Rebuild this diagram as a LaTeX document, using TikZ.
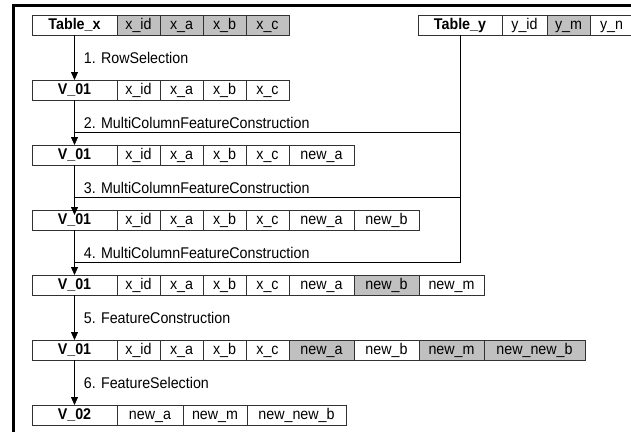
\documentclass[tikz,border=0pt]{standalone}
\usepackage{fontspec}
\setmainfont[FakeStretch=0.92]{Liberation Sans}
\usetikzlibrary{positioning,arrows.meta,calc}
\definecolor{cellLine}{RGB}{50,50,50}
\definecolor{cellHit}{RGB}{192,192,192}
\newcommand\cellfont{\fontsize{15.5}{18}\selectfont}
\tikzset{
  cell/.style={rectangle, draw=cellLine, fill=white, line width=0.8pt, outer sep=0pt,
               minimum height=20pt, minimum width=43pt, inner sep=0pt,
               text height=11pt, text depth=3pt, font=\cellfont},
  hcell/.style={cell, fill=cellHit},
  hdr/.style={cell, minimum width=85pt, font=\cellfont\bfseries, anchor=north west},
  flow/.style={-{Triangle[length=8pt,width=7pt]}, draw=black, line width=0.8pt},
  feed/.style={draw=black, line width=0.8pt},
  lbl/.style={anchor=west, xshift=9pt, inner sep=0pt, font=\cellfont},
}
\begin{document}
\begin{tikzpicture}[x=1pt, y=1pt, node distance=0pt]
  \useasboundingbox (0,0) rectangle (631,-431);
  \draw[line width=3pt] (13,-440) |- (640,-5);

  % source tables
  \node[hdr] (r1) at (32,-15) {Table\_x};
  \node[hcell, right=of r1] (r1id) {x\_id};
  \node[hcell, right=of r1id] (r1a) {x\_a};
  \node[hcell, right=of r1a] (r1b) {x\_b};
  \node[hcell, right=of r1b] (r1c) {x\_c};

  \node[hdr, minimum width=84pt] (ty) at (418,-15) {Table\_y};
  \node[cell, minimum width=45pt, right=of ty] (tyid) {y\_id};
  \node[hcell, right=of tyid] (tym) {y\_m};
  \node[cell, right=of tym] (tyn) {y\_n};

  % step 1
  \node[hdr] (r2) at (32,-80) {V\_01};
  \node[cell, right=of r2] (r2id) {x\_id};
  \node[cell, right=of r2id] (r2a) {x\_a};
  \node[cell, right=of r2a] (r2b) {x\_b};
  \node[cell, right=of r2b] (r2c) {x\_c};

  % step 2
  \node[hdr] (r3) at (32,-145) {V\_01};
  \node[cell, right=of r3] (r3id) {x\_id};
  \node[cell, right=of r3id] (r3a) {x\_a};
  \node[cell, right=of r3a] (r3b) {x\_b};
  \node[cell, right=of r3b] (r3c) {x\_c};
  \node[cell, minimum width=65pt, right=of r3c] (r3na) {new\_a};

  % step 3
  \node[hdr] (r4) at (32,-210) {V\_01};
  \node[cell, right=of r4] (r4id) {x\_id};
  \node[cell, right=of r4id] (r4a) {x\_a};
  \node[cell, right=of r4a] (r4b) {x\_b};
  \node[cell, right=of r4b] (r4c) {x\_c};
  \node[cell, minimum width=65pt, right=of r4c] (r4na) {new\_a};
  \node[cell, minimum width=65pt, right=of r4na] (r4nb) {new\_b};

  % step 4
  \node[hdr] (r5) at (32,-275) {V\_01};
  \node[cell, right=of r5] (r5id) {x\_id};
  \node[cell, right=of r5id] (r5a) {x\_a};
  \node[cell, right=of r5a] (r5b) {x\_b};
  \node[cell, right=of r5b] (r5c) {x\_c};
  \node[cell, minimum width=65pt, right=of r5c] (r5na) {new\_a};
  \node[hcell, minimum width=65pt, right=of r5na] (r5nb) {new\_b};
  \node[cell, minimum width=65pt, right=of r5nb] (r5nm) {new\_m};

  % step 5
  \node[hdr] (r6) at (32,-340) {V\_01};
  \node[cell, right=of r6] (r6id) {x\_id};
  \node[cell, right=of r6id] (r6a) {x\_a};
  \node[cell, right=of r6a] (r6b) {x\_b};
  \node[cell, right=of r6b] (r6c) {x\_c};
  \node[hcell, minimum width=65pt, right=of r6c] (r6na) {new\_a};
  \node[cell, minimum width=65pt, right=of r6na] (r6nb) {new\_b};
  \node[hcell, minimum width=65pt, right=of r6nb] (r6nm) {new\_m};
  \node[hcell, minimum width=101pt, right=of r6nm] (r6nnb) {new\_new\_b};

  % step 6
  \node[hdr] (r7) at (32,-405) {V\_02};
  \node[cell, minimum width=66pt, right=of r7] (r7na) {new\_a};
  \node[cell, minimum width=64pt, right=of r7na] (r7nm) {new\_m};
  \node[cell, minimum width=99pt, right=of r7nm] (r7nnb) {new\_new\_b};

  % Table_y feeds steps 2-4
  \coordinate (j2) at ($(r3.north)+(0,13pt)$);
  \coordinate (j3) at ($(r4.north)+(0,13pt)$);
  \coordinate (j4) at ($(r5.north)+(0,13pt)$);
  \draw[feed] (ty) |- (j2);
  \draw[feed] (ty) |- (j3);
  \draw[feed] (ty) |- (j4);

  \draw[flow] (r1) -- node[lbl] {1. RowSelection} (r2);
  \draw[flow] (r2) -- node[lbl] {2. MultiColumnFeatureConstruction} (r3);
  \draw[flow, shorten >=-5pt] (r3) -- node[lbl] {3. MultiColumnFeatureConstruction} (r4);
  \draw[flow] (r4) -- node[lbl] {4. MultiColumnFeatureConstruction} (r5);
  \draw[flow] (r5) -- node[lbl] {5. FeatureConstruction} (r6);
  \draw[flow] (r6) -- node[lbl] {6. FeatureSelection} (r7);
\end{tikzpicture}
\end{document}
